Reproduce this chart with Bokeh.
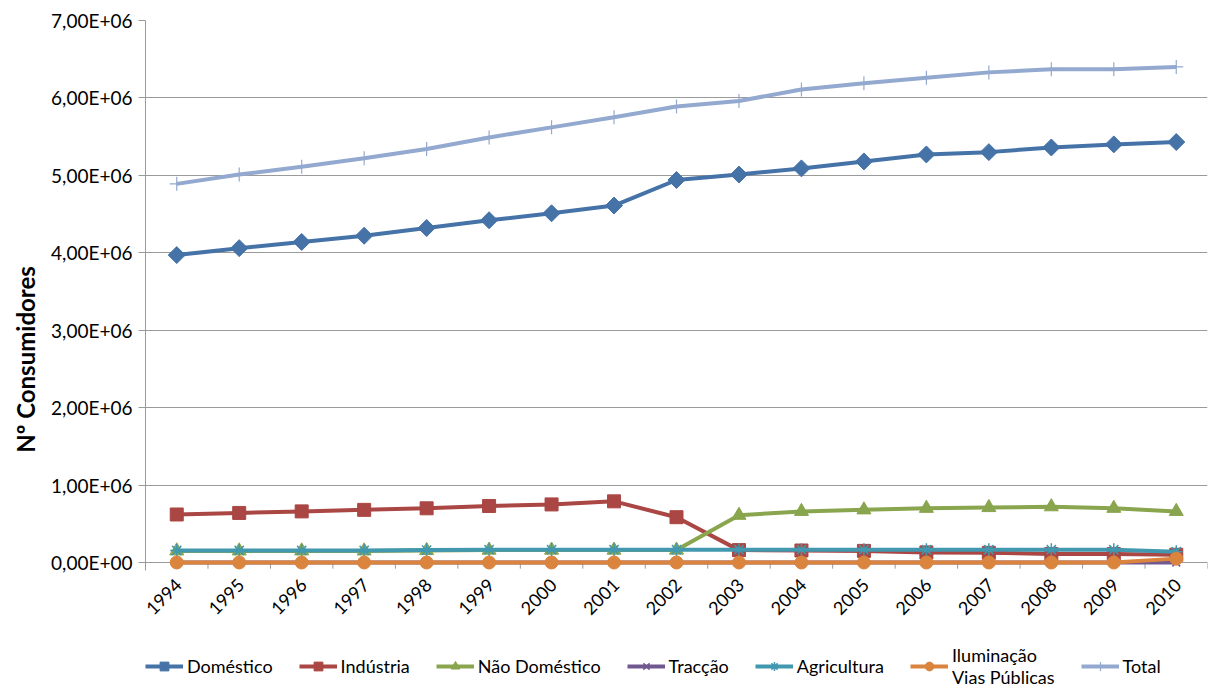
from bokeh.plotting import figure
from bokeh.models import (ColumnDataSource, FixedTicker, CustomJSTickFormatter,
                          Legend, LegendItem, Range1d)
from bokeh.core.properties import value
from bokeh.embed import file_html
from bokeh.resources import INLINE
import math

years = ["1994", "1995", "1996", "1997", "1998", "1999", "2000", "2001", "2002",
         "2003", "2004", "2005", "2006", "2007", "2008", "2009", "2010"]

domestico = [3.97e6, 4.06e6, 4.14e6, 4.22e6, 4.32e6, 4.42e6, 4.51e6, 4.61e6, 4.94e6,
             5.01e6, 5.09e6, 5.18e6, 5.27e6, 5.30e6, 5.36e6, 5.40e6, 5.43e6]
industria = [0.62e6, 0.64e6, 0.66e6, 0.68e6, 0.70e6, 0.73e6, 0.75e6, 0.79e6, 0.585e6,
             0.16e6, 0.155e6, 0.15e6, 0.13e6, 0.125e6, 0.11e6, 0.11e6, 0.10e6]
nao_domestico = [0.15e6, 0.15e6, 0.15e6, 0.15e6, 0.155e6, 0.16e6, 0.16e6, 0.16e6, 0.16e6,
                 0.61e6, 0.66e6, 0.68e6, 0.70e6, 0.71e6, 0.72e6, 0.70e6, 0.66e6]
traccao = [0, 0, 0, 0, 0, 0, 0, 0, 0, 0, 0, 0, 0, 0, 0, 0, 0]
agricultura = [0.155e6, 0.155e6, 0.155e6, 0.155e6, 0.16e6, 0.165e6, 0.165e6, 0.165e6, 0.165e6,
               0.165e6, 0.165e6, 0.165e6, 0.165e6, 0.165e6, 0.165e6, 0.165e6, 0.14e6]
iluminacao = [0, 0, 0, 0, 0, 0, 0, 0, 0, 0, 0, 0, 0, 0, 0, 0, 0.05e6]
total = [4.89e6, 5.01e6, 5.11e6, 5.22e6, 5.34e6, 5.49e6, 5.62e6, 5.75e6, 5.89e6,
         5.96e6, 6.11e6, 6.19e6, 6.26e6, 6.33e6, 6.37e6, 6.37e6, 6.40e6]

y_ticks = [0, 1e6, 2e6, 3e6, 4e6, 5e6, 6e6, 7e6]

FONT = "Lato"
x = list(range(len(years)))

# frame covers the area below zero too, so legend and year labels are drawn inside it
p = figure(width=1208, height=698, output_backend="svg",
           toolbar_location=None, x_range=Range1d(-0.5, len(years) - 0.5),
           y_range=Range1d(-1.7565e6, 7e6), min_border_left=145, min_border_top=20,
           min_border_right=1, min_border_bottom=0)
p.outline_line_color = None
p.background_fill_color = "white"
p.xaxis.visible = False

# category boundary ticks and year labels, through the plot's scales
bounds = [i - 0.5 for i in range(len(years) + 1)]
p.segment(x0=bounds, y0=[0] * len(bounds), x1=bounds, y1=[-0.08e6] * len(bounds),
          line_color="#9a9a9a", line_width=1)
lab_src = ColumnDataSource(dict(x=[i + 0.03 for i in x], y=[-0.25e6] * len(x), label=years))
p.text(x="x", y="y", text="label", source=lab_src, angle=math.pi / 4,
       text_align="right", text_baseline="middle", text_font=value(FONT),
       text_font_size="18px", text_color="black")

series = [
    ("Doméstico", domestico, "#4572A7", "square", 12, 1, math.pi / 4),
    ("Indústria", industria, "#AA4643", "square", 13, 1, 0),
    ("Não Doméstico", nao_domestico, "#89A54E", "triangle", 14, 1, 0),
    ("Tracção", traccao, "#71588F", "x", 11, 1.5, 0),
    ("Agricultura", agricultura, "#4198AF", "asterisk", 13, 1.5, 0),
    ("Iluminação\nVias Públicas", iluminacao, "#DB843D", "circle", 13, 1, 0),
    ("Total", total, "#93A9CF", "cross", 14, 1.2, 0),
]

items = []
for name, vals, color, marker, size, mlw, ang in series:
    src = ColumnDataSource(dict(x=x, y=vals))
    ln = p.line("x", "y", source=src, line_color=color, line_width=4)
    if marker in ("x", "asterisk", "cross"):
        sc = p.scatter("x", "y", source=src, marker=marker, size=size,
                       line_color=color, line_width=mlw, fill_color=None)
    else:
        sc = p.scatter("x", "y", source=src, marker=marker, size=size, angle=ang,
                       line_color=color, fill_color=color, line_width=mlw)
    items.append(LegendItem(label=name, renderers=[ln, sc]))

# y axis
p.yaxis.bounds = (-0.1e6, 7e6)
p.yaxis.ticker = FixedTicker(ticks=y_ticks)
p.yaxis.formatter = CustomJSTickFormatter(code="""
const s = tick.toExponential(2);
const parts = s.split('e');
const m = parts[0].replace('.', ',');
let e = parseInt(parts[1]);
const sign = e < 0 ? '-' : '+';
e = Math.abs(e);
return m + 'E' + sign + (e < 10 ? '0' : '') + e;
""")
p.yaxis.axis_label = "Nº Consumidores"
p.yaxis.axis_label_text_font = FONT
p.yaxis.axis_label_text_font_style = "bold"
p.yaxis.axis_label_text_font_size = "24px"
p.yaxis.axis_label_text_color = "black"
p.yaxis.axis_label_standoff = 8
p.yaxis.major_label_text_font = FONT
p.yaxis.major_label_text_font_size = "19px"
p.yaxis.major_label_text_color = "black"
p.yaxis.major_label_standoff = 6
p.yaxis.axis_line_color = "#9a9a9a"
p.yaxis.major_tick_line_color = "#9a9a9a"
p.yaxis.major_tick_out = 7
p.yaxis.major_tick_in = 0
p.yaxis.minor_tick_line_color = None

p.xgrid.grid_line_color = None
p.ygrid.ticker = FixedTicker(ticks=y_ticks)
p.ygrid.grid_line_color = "#9a9a9a"
p.ygrid.grid_line_width = 1

legend = Legend(items=items, orientation="horizontal", location=(0, 10),
                label_text_font=FONT, label_text_font_size="18px",
                label_text_color="black", glyph_width=38, glyph_height=22,
                label_standoff=4, spacing=26, border_line_color=None,
                background_fill_alpha=0, padding=0, margin=0)
p.add_layout(legend, "center")

open("out.html", "w").write(file_html(p, INLINE))
